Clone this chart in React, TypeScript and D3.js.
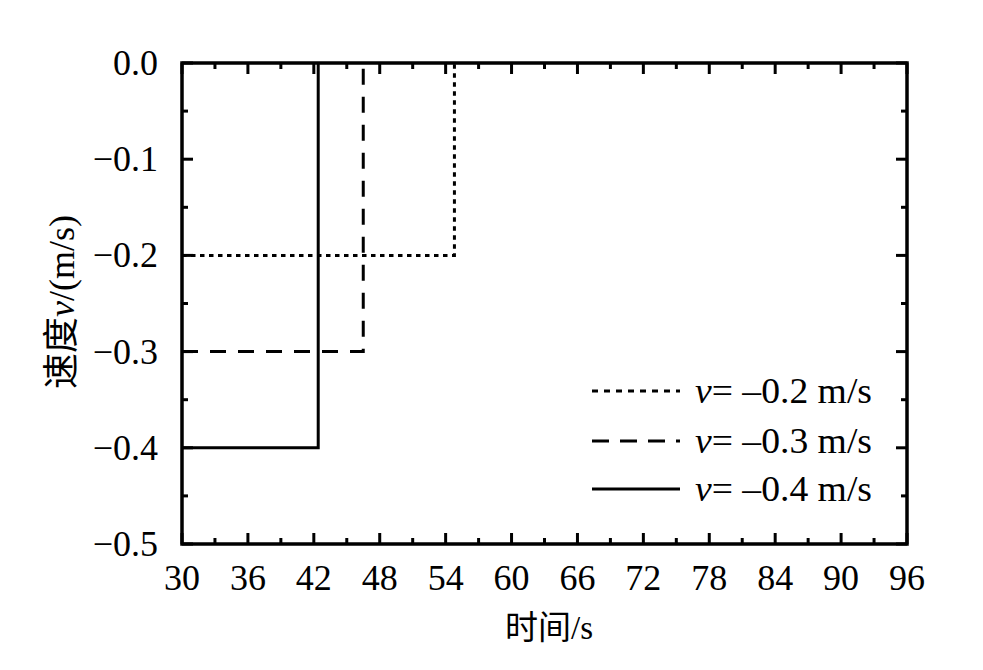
import React from "react";
import * as d3 from "d3";

const xTicks = [30, 36, 42, 48, 54, 60, 66, 72, 78, 84, 90, 96];
const yTicks = [0, -0.1, -0.2, -0.3, -0.4, -0.5];
const yTickLabels = ["0.0", "\u22120.1", "\u22120.2", "\u22120.3", "\u22120.4", "\u22120.5"];

const seriesNames = ["= \u20130.2 m/s", "= \u20130.3 m/s", "= \u20130.4 m/s"];
const seriesDash = ["4.5,4.5", "16,12", ""];
const legendDash = ["6,6", "17,11", ""];
const s02 = [{ t: 30, v: -0.2 }, { t: 54.8, v: -0.2 }, { t: 54.8, v: 0 }];
const s03 = [{ t: 30, v: -0.3 }, { t: 46.5, v: -0.3 }, { t: 46.5, v: 0 }];
const s04 = [{ t: 30, v: -0.4 }, { t: 42.4, v: -0.4 }, { t: 42.4, v: 0 }];
const seriesData = [s02, s03, s04];

export default function App() {
  const W = 983, H = 670;
  const L = 182, R = 907, T = 63, B = 544;
  const x = d3.scaleLinear().domain([30, 96]).range([L, R]);
  const y = d3.scaleLinear().domain([-0.5, 0]).range([B, T]);
  const line = d3.line<{ t: number; v: number }>().x(d => x(d.t)).y(d => y(d.v));
  const xMinor = d3.range(33, 96, 6);
  const yMinor = d3.range(-0.45, 0, 0.1);
  const font = "'Liberation Serif', 'Times New Roman', serif";
  const cjk = "'Liberation Serif', 'Noto Sans CJK SC', serif";
  const legendY = [391, 441, 489];
  return (
    <svg width={W} height={H} style={{ position: "absolute", left: 0, top: 0, background: "#fff" }}>
      <g stroke="#000" strokeWidth={3} fill="none">
        {seriesData.map((d, i) => (
          <path key={i} d={line(d) || ""} strokeDasharray={seriesDash[i]} />
        ))}
      </g>
      <g stroke="#000" strokeWidth={3}>
        {xTicks.map((t, i) => (
          <g key={"xt" + i}>
            <line x1={x(t)} x2={x(t)} y1={B} y2={B - 11} />
            <line x1={x(t)} x2={x(t)} y1={T} y2={T + 11} />
          </g>
        ))}
        {xMinor.map((t, i) => (
          <g key={"xm" + i}>
            <line x1={x(t)} x2={x(t)} y1={B} y2={B - 6} />
            <line x1={x(t)} x2={x(t)} y1={T} y2={T + 6} />
          </g>
        ))}
        {yTicks.map((t, i) => (
          <g key={"yt" + i}>
            <line x1={L} x2={L + 11} y1={y(t)} y2={y(t)} />
            <line x1={R} x2={R - 11} y1={y(t)} y2={y(t)} />
          </g>
        ))}
        {yMinor.map((t, i) => (
          <g key={"ym" + i}>
            <line x1={L} x2={L + 6} y1={y(t)} y2={y(t)} />
            <line x1={R} x2={R - 6} y1={y(t)} y2={y(t)} />
          </g>
        ))}
      </g>
      <rect x={L} y={T} width={R - L} height={B - T} fill="none" stroke="#000" strokeWidth={3.5} />
      <g fontFamily={font} fontSize={36} fill="#000">
        {xTicks.map((t, i) => (
          <text key={"xl" + i} x={x(t)} y={B + 46} textAnchor="middle">{t}</text>
        ))}
        {yTicks.map((t, i) => (
          <text key={"yl" + i} x={L - 24} y={y(t) + 12} textAnchor="end">{yTickLabels[i]}</text>
        ))}
      </g>
      <text x={549} y={639} textAnchor="middle" fontFamily={cjk} fontSize={33}>时间/s</text>
      <text transform={`translate(74, 302) rotate(-90)`} textAnchor="middle" fontFamily={cjk} fontSize={36}>
        速度<tspan fontStyle="italic">v</tspan>/(m/s)
      </text>
      <g fontFamily={font} fontSize={35}>
        {seriesNames.map((n, i) => (
          <g key={"lg" + i}>
            <line x1={592} x2={680} y1={legendY[i]} y2={legendY[i]} stroke="#000" strokeWidth={3} strokeDasharray={legendDash[i]} />
            <text x={695} y={legendY[i] + 12} textLength={177} lengthAdjust="spacingAndGlyphs">
              <tspan fontStyle="italic">v</tspan>{n}
            </text>
          </g>
        ))}
      </g>
    </svg>
  );
}
